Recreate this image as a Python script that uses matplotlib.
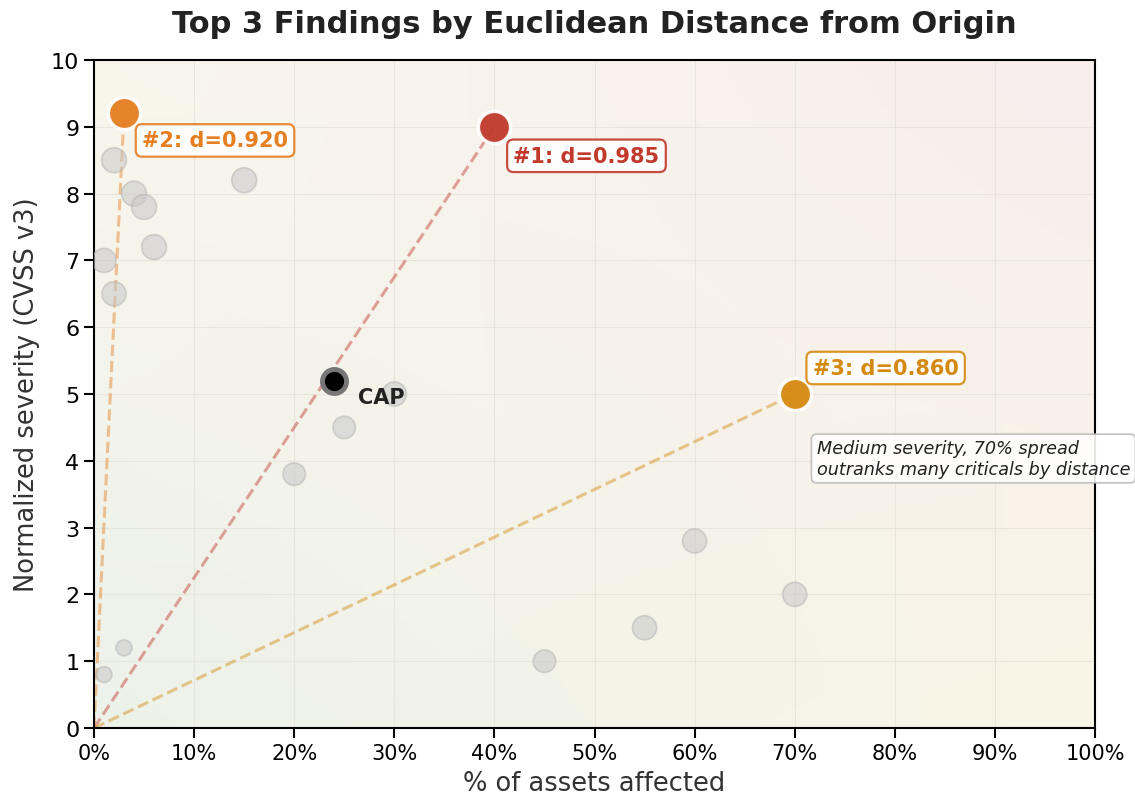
import numpy as np
import matplotlib
matplotlib.use("Agg")
import matplotlib.pyplot as plt
from matplotlib.colors import to_rgb
from matplotlib.ticker import FuncFormatter

# other findings (grey)
other_x = [2, 4, 5, 6, 1, 2, 15, 30, 25, 20, 60, 70, 55, 45, 3, 1]
other_y = [8.5, 8.0, 7.8, 7.2, 7.0, 6.5, 8.2, 5.0, 4.5, 3.8, 2.8, 2.0, 1.5, 1.0, 1.2, 0.8]
other_size = [320, 320, 320, 320, 300, 300, 320, 300, 260, 260, 300, 300, 300, 260, 130, 130]

# top 3 by distance
top_labels = ['#1', '#2', '#3']
top_x = [40, 3, 70]
top_y = [9.0, 9.2, 5.0]
top_colors = ['#c0392b', '#e67e22', '#d68910']
top_offsets = [(19, -29), (18, -27), (18, 26)]

cap_x, cap_y = 24, 5.2

fig = plt.figure(figsize=(11.35, 8.03), dpi=100)
ax = fig.add_axes([94 / 1135, 1 - 729 / 803, 1001 / 1135, 668 / 803])

# soft background gradient
n = 200
u = np.linspace(0, 1, n)[None, :, None]
v = np.linspace(0, 1, n)[:, None, None]
bl = np.array(to_rgb('#edf2ea'))
tl = np.array(to_rgb('#f9f6ec'))
br = np.array(to_rgb('#f9f5e6'))
tr = np.array(to_rgb('#f8eeee'))
img = (1 - u) * (1 - v) * bl + u * (1 - v) * br + (1 - u) * v * tl + u * v * tr
ax.imshow(img, extent=[0, 100, 0, 10], origin='lower', aspect='auto', zorder=0)

ax.grid(True, color='#e6e2da', linewidth=0.8, alpha=0.8, zorder=1)

ax.scatter(other_x, other_y, s=other_size, color='#c8c8c8', alpha=0.55,
           edgecolors='#b5b5b5', linewidths=1.2, zorder=3)

for lab, x, y, c, off in zip(top_labels, top_x, top_y, top_colors, top_offsets):
    ax.plot([0, x], [0, y], linestyle='--', color=c, alpha=0.45, linewidth=2.2, zorder=2)
    ax.scatter([x], [y], s=540, color=c, edgecolors='white', linewidths=2.5,
               alpha=0.95, zorder=5)
    d = np.hypot(x / 100, y / 10)
    ax.annotate(f'{lab}: d={d:.3f}', (x, y), xytext=off, textcoords='offset pixels',
                ha='left', va='center', fontsize=15, fontweight='bold', color=c,
                bbox=dict(boxstyle='round,pad=0.3', fc='white', ec=c, lw=1.6, alpha=0.9),
                zorder=6)

ax.scatter([cap_x], [cap_y], s=300, color='black', edgecolors='#777777',
           linewidths=3.5, zorder=6)
ax.annotate('CAP', (cap_x, cap_y), xytext=(24, -16), textcoords='offset pixels',
            fontsize=15, fontweight='bold', color='#222222', ha='left', va='center',
            zorder=6)

ax.text(72.2, 4.32, 'Medium severity, 70% spread\noutranks many criticals by distance',
        fontsize=12.7, style='italic', color='#222222', ha='left', va='top',
        linespacing=1.15,
        bbox=dict(boxstyle='round,pad=0.3', fc='white', ec='#bbbbbb', lw=1.2, alpha=0.9),
        zorder=7, clip_on=False)

ax.set_xlim(0, 100)
ax.set_ylim(0, 10)
ax.set_xticks(np.arange(0, 101, 10))
ax.set_yticks(np.arange(0, 11, 1))
ax.xaxis.set_major_formatter(FuncFormatter(lambda v, p: f'{v:.0f}%'))
ax.tick_params(labelsize=16, width=1.5, length=7)
ax.tick_params(axis='x', labelsize=15)
for s in ax.spines.values():
    s.set_linewidth(1.5)
    s.set_color('black')

ax.set_xlabel('% of assets affected', fontsize=18.5, color='#333333', labelpad=5)
ax.set_ylabel('Normalized severity (CVSS v3)', fontsize=18.5, color='#333333', labelpad=8)
ax.set_title('Top 3 Findings by Euclidean Distance from Origin', fontsize=22,
             fontweight='bold', color='#222222', pad=20)

fig.savefig('out.png', dpi=100)
